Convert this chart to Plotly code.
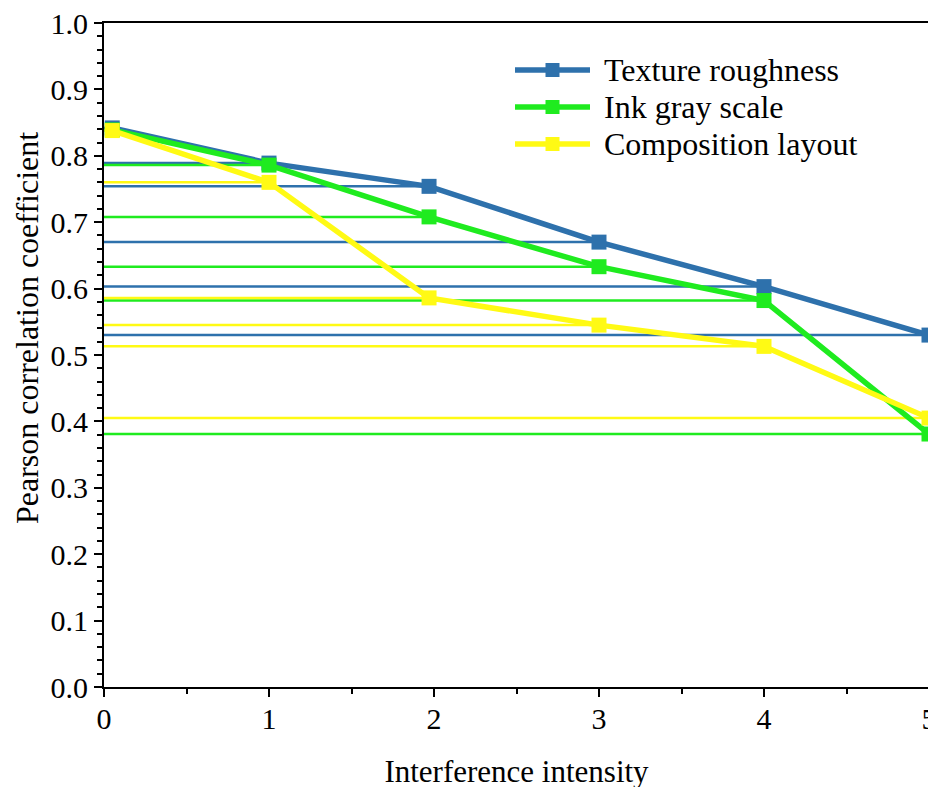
import plotly.graph_objects as go

# ---- data ----
x_texture = [0.05, 1, 1.97, 3, 4, 5]
y_texture = [0.842, 0.789, 0.754, 0.670, 0.603, 0.530]
x_ink = [0.05, 1, 1.97, 3, 4, 5]
y_ink = [0.839, 0.786, 0.708, 0.633, 0.582, 0.381]
x_comp = [0.05, 1, 1.97, 3, 4, 5]
y_comp = [0.838, 0.760, 0.586, 0.545, 0.513, 0.405]
names = ["Texture roughness", "Ink gray scale", "Composition layout"]
colors = ["#2E71AC", "#1FEB1F", "#FFFA14"]
x_ticks = [0, 1, 2, 3, 4, 5]
y_ticks = [0.0, 0.1, 0.2, 0.3, 0.4, 0.5, 0.6, 0.7, 0.8, 0.9, 1.0]

series = [(x_texture, y_texture), (x_ink, y_ink), (x_comp, y_comp)]
FONT = "Liberation Serif"

fig = go.Figure()

# horizontal guide lines from the y axis to each point
for (xs, ys), c, n in zip(series, colors, names):
    hx, hy = [], []
    for xv, yv in zip(xs, ys):
        hx += [0, xv, None]
        hy += [yv, yv, None]
    fig.add_trace(go.Scatter(x=hx, y=hy, mode="lines",
                             line=dict(color=c, width=2.5),
                             showlegend=False, hoverinfo="skip"))

# main series
for (xs, ys), c, n in zip(series, colors, names):
    fig.add_trace(go.Scatter(x=xs, y=ys, mode="lines+markers", name=n,
                             line=dict(color=c, width=5.5),
                             marker=dict(symbol="square", size=15, color=c),
                             cliponaxis=True, showlegend=False))

# page layout (page pixel coords; the figure div sits 8px in from the page edge)
OFF = 8
W, H = 936, 787
PL, PR, PT, PB = 104, 929, 23, 687   # plot box in page pixels
L, T = PL - OFF, PT - OFF
R, B = W - (PR - OFF), H - (PB - OFF)
pw, ph = PR - PL, PB - PT
def px(xp):
    return (xp - PL) / pw
def py(yp):
    return (PB - yp) / ph

# manual legend (decoration)
leg_x0, leg_x1, txt_x = 515, 590, 602
leg_rows = [70, 107, 144]
for n, c, yr in zip(names, colors, leg_rows):
    fig.add_shape(type="line", xref="paper", yref="paper",
                  x0=px(leg_x0), x1=px(leg_x1), y0=py(yr), y1=py(yr),
                  line=dict(color=c, width=5.5))
    mx = (leg_x0 + leg_x1) / 2
    fig.add_shape(type="rect", xref="paper", yref="paper",
                  x0=px(mx - 7), x1=px(mx + 7), y0=py(yr + 7), y1=py(yr - 7),
                  line=dict(width=0), fillcolor=c)
    fig.add_annotation(xref="paper", yref="paper", x=px(txt_x), y=py(yr),
                       xanchor="left", yanchor="middle", showarrow=False,
                       text=n, font=dict(family=FONT, size=32, color="black"))

fig.add_annotation(xref="paper", yref="paper", x=px(27), y=py(328),
                   textangle=-90, showarrow=False, xanchor="center", yanchor="middle",
                   text="Pearson correlation coefficient",
                   font=dict(family=FONT, size=32, color="black"))

fig.update_layout(
    width=W, height=H,
    margin=dict(l=L, r=R, t=T, b=B, autoexpand=False),
    paper_bgcolor="white", plot_bgcolor="white",
    font=dict(family=FONT, size=30, color="black"),
    xaxis=dict(range=[0, 5], tickvals=x_ticks, showgrid=False, zeroline=False,
               showline=True, linecolor="black", linewidth=2, mirror=True,
               ticks="outside", ticklen=8, tickwidth=2, tickcolor="black",
               ticklabeloverflow="allow", automargin=False, ticklabelstandoff=-4,
               minor=dict(dtick=0.5, ticks="outside", ticklen=5, tickwidth=2, tickcolor="black"),
               tickfont=dict(family=FONT, size=30),
               title=dict(text="Interference intensity", standoff=26,
                          font=dict(family=FONT, size=31))),
    yaxis=dict(range=[0, 1.0], tickvals=y_ticks, tickformat=".1f", showgrid=False,
               zeroline=False, showline=True, linecolor="black", linewidth=2, mirror=True,
               ticks="outside", ticklen=8, tickwidth=2, tickcolor="black",
               ticklabeloverflow="allow", automargin=False,
               minor=dict(dtick=0.02, ticks="outside", ticklen=5, tickwidth=2, tickcolor="black"),
               tickfont=dict(family=FONT, size=30)),
)

fig.write_html("out.html")
